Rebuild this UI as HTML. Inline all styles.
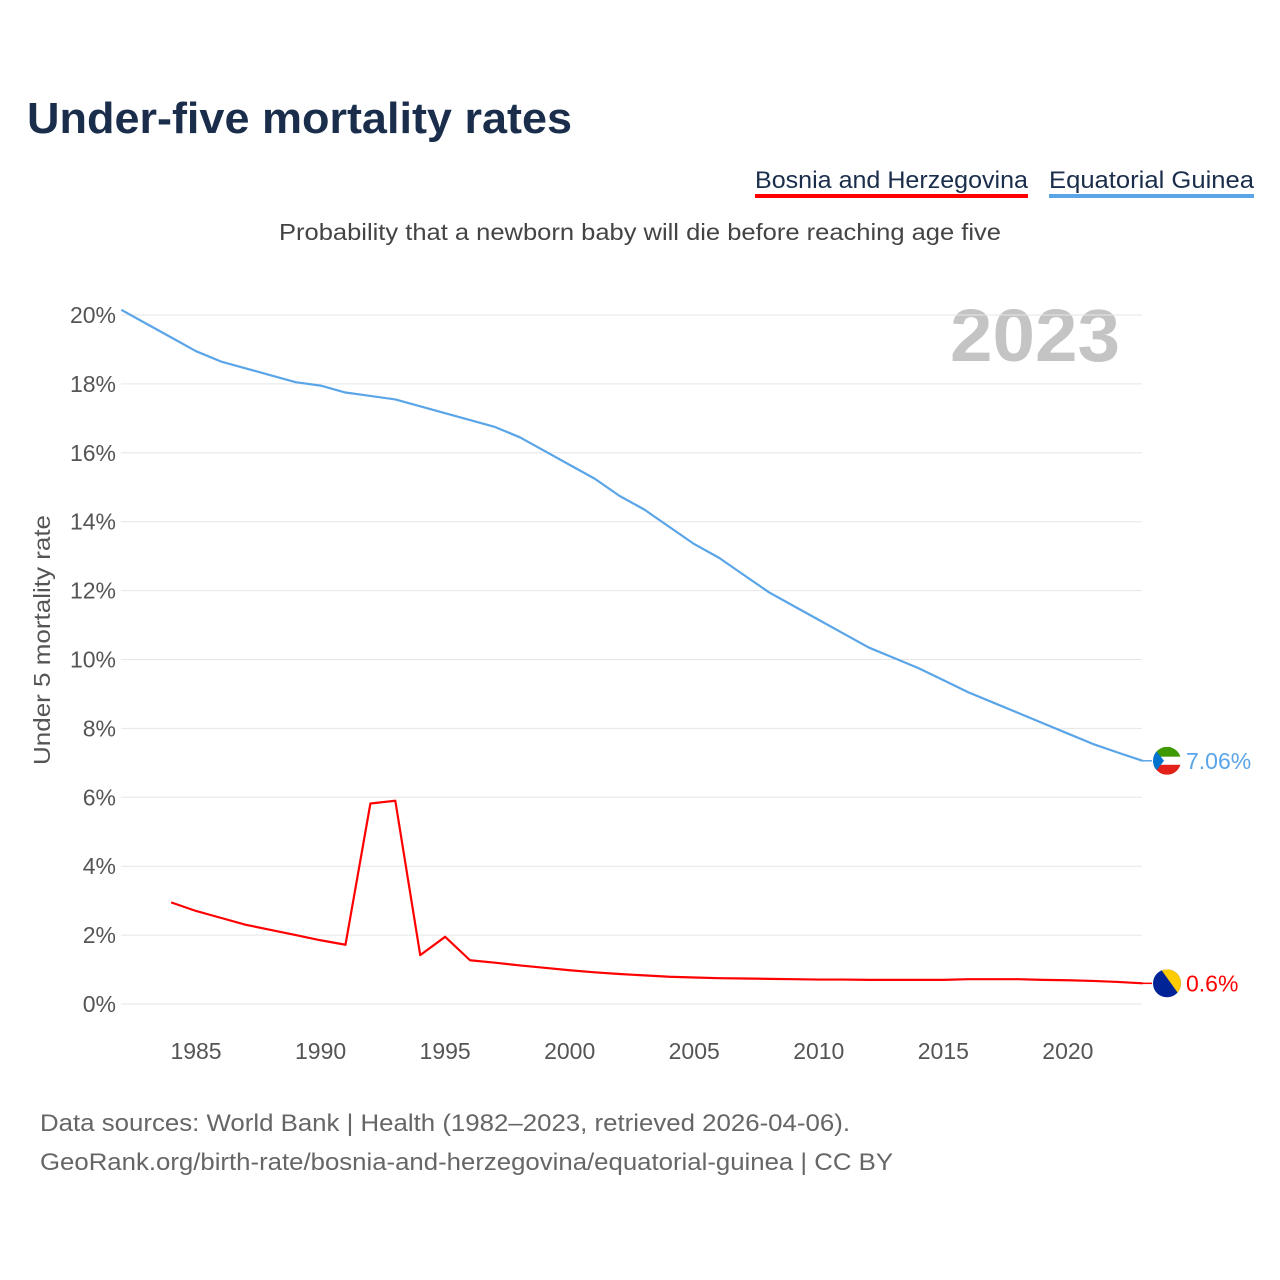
<!DOCTYPE html>
<html><head><meta charset="utf-8"><style>
body{margin:0;background:#fff;font-family:"Liberation Sans",sans-serif;}
#wrap{position:relative;width:1280px;height:1280px;overflow:hidden;}
</style></head><body>
<div id="wrap">
<svg id="svg" width="1280" height="1280" xmlns="http://www.w3.org/2000/svg">
<text x="27" y="133" font-size="44" font-weight="bold" fill="#1a2e4c" textLength="545" lengthAdjust="spacingAndGlyphs">Under-five mortality rates</text>
<g><text x="755" y="188" font-size="24" fill="#1a2e4c" textLength="273" lengthAdjust="spacingAndGlyphs">Bosnia and Herzegovina</text><rect x="755" y="194" width="273" height="4" fill="#ff0000"/></g>
<g><text x="1049" y="188" font-size="24" fill="#1a2e4c" textLength="205" lengthAdjust="spacingAndGlyphs">Equatorial Guinea</text><rect x="1049" y="194" width="205" height="4" fill="#5aa5e8"/></g>
<text x="279" y="240" font-size="23" fill="#444" textLength="722" lengthAdjust="spacingAndGlyphs">Probability that a newborn baby will die before reaching age five</text>
<text x="1120" y="361" text-anchor="end" font-size="74" font-weight="bold" fill="#c4c4c4" textLength="170" lengthAdjust="spacingAndGlyphs">2023</text>
<text transform="translate(50,765) rotate(-90)" font-size="23" fill="#555" textLength="250" lengthAdjust="spacingAndGlyphs">Under 5 mortality rate</text>
<g id="grid"></g><g id="lines"></g><g id="ends"></g>
<text x="40" y="1131" font-size="24" fill="#666" textLength="810" lengthAdjust="spacingAndGlyphs">Data sources: World Bank | Health (1982–2023, retrieved 2026-04-06).</text>
<text x="40" y="1170" font-size="24" fill="#666" textLength="853" lengthAdjust="spacingAndGlyphs">GeoRank.org/birth-rate/bosnia-and-herzegovina/equatorial-guinea | CC BY</text>
</svg></div>
<script>
const yTicks=[0,2,4,6,8,10,12,14,16,18,20];
const xTicks=[1985,1990,1995,2000,2005,2010,2015,2020];
const gqYears=[];for(let y=1982;y<=2023;y++)gqYears.push(y);
const gqValues=[20.15,19.75,19.35,18.95,18.65,18.45,18.25,18.05,17.95,17.75,17.65,17.55,17.35,17.15,16.95,16.75,16.45,16.05,15.65,15.25,14.75,14.35,13.85,13.35,12.95,12.45,11.95,11.55,11.15,10.75,10.35,10.05,9.75,9.4,9.05,8.75,8.45,8.15,7.85,7.55,7.3,7.06];
const baYears=[];for(let y=1984;y<=2023;y++)baYears.push(y);
const baValues=[2.95,2.7,2.5,2.3,2.15,2.0,1.85,1.72,5.82,5.9,1.42,1.95,1.27,1.2,1.12,1.05,0.98,0.92,0.87,0.83,0.79,0.77,0.75,0.74,0.73,0.72,0.71,0.71,0.7,0.7,0.7,0.7,0.72,0.72,0.72,0.7,0.69,0.67,0.64,0.6];
const X=y=>121.3+(y-1982)*24.91, Y=v=>1004-v*34.45;
const NS='http://www.w3.org/2000/svg';
function mk(t,a,p){const e=document.createElementNS(NS,t);for(const k in a)e.setAttribute(k,a[k]);p.appendChild(e);return e;}
const grid=document.getElementById('grid');
yTicks.forEach(v=>{
 const l=mk('line',{x1:121,x2:1142,y1:Y(v),y2:Y(v),stroke:'#e6e6e6','stroke-width':1},grid);
 
 
 const t=mk('text',{x:116,y:Y(v)+8,'text-anchor':'end','font-size':23,fill:'#555'},grid);t.textContent=v+'%';
 
 
});
xTicks.forEach(v=>{
 const t=mk('text',{x:X(v),y:1059,'text-anchor':'middle','font-size':23,fill:'#555'},grid);t.textContent=v;
 
 
});
const lines=document.getElementById('lines');
function series(ys,vs,c,n){
 const p=mk('polyline',{points:ys.map((y,i)=>X(y)+','+Y(vs[i])).join(' '),fill:'none',stroke:c,'stroke-width':2.2,'stroke-linejoin':'round'},lines);
 
 
}
series(gqYears,gqValues,'#5aa5e8','line-equatorial-guinea');
series(baYears,baValues,'#ff0000','line-bosnia');
const ends=document.getElementById('ends');
function endLabel(v,c,n,flag){
 const y=Y(v),x=1167;
 const g=mk('g',{},ends);
 
 
 mk('line',{x1:1142,x2:1152,y1:y,y2:y,stroke:c,'stroke-width':1.5},g);
 const cp='cp'+n;const d=mk('clipPath',{id:cp},g);mk('circle',{cx:x,cy:y,r:14},d);
 const f=mk('g',{'clip-path':'url(#'+cp+')'},g);flag(f,x,y);
 const t=mk('text',{x:1186,y:y+8,'font-size':23,fill:c},g);t.textContent=v+'%';
}
endLabel(gqValues[gqValues.length-1],'#5aa5e8','end-label-equatorial-guinea',(f,x,y)=>{
 mk('rect',{x:x-14,y:y-14,width:28,height:10,fill:'#3e9a00'},f);
 mk('rect',{x:x-14,y:y-4,width:28,height:8,fill:'#fff'},f);
 mk('rect',{x:x-14,y:y+4,width:28,height:10,fill:'#e32118'},f);
 mk('polygon',{points:`${x-14},${y-14} ${x-3},${y} ${x-14},${y+14}`,fill:'#0073ce'},f);
});
endLabel(0.6,'#ff0000','end-label-bosnia',(f,x,y)=>{
 mk('rect',{x:x-14,y:y-14,width:28,height:28,fill:'#002395'},f);
 mk('polygon',{points:`${x-6},${y-14} ${x+14},${y-14} ${x+14},${y+14}`,fill:'#fecb00'},f);
});
</script></body></html>
